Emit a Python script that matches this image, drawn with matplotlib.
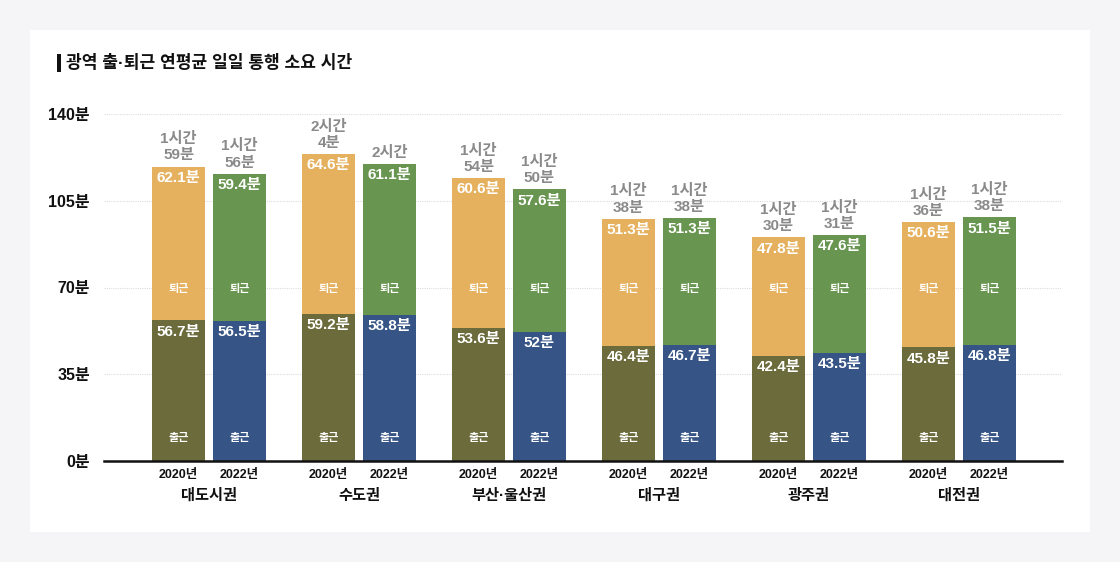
import matplotlib
matplotlib.use('Agg')
import matplotlib.pyplot as plt
from matplotlib.patches import Rectangle
import numpy as np

plt.rcParams['font.family'] = ['Liberation Sans', 'Noto Sans CJK KR', 'DejaVu Sans']

# data
regions = ['대도시권', '수도권', '부산·울산권', '대구권', '광주권', '대전권']
years = ['2020년', '2022년']
to_work_2020 = [56.7, 59.2, 53.6, 46.4, 42.4, 45.8]
from_work_2020 = [62.1, 64.6, 60.6, 51.3, 47.8, 50.6]
to_work_2022 = [56.5, 58.8, 52.0, 46.7, 43.5, 46.8]
from_work_2022 = [59.4, 61.1, 57.6, 51.3, 47.6, 51.5]
y_ticks = [0, 35, 70, 105, 140]

# colours
c_to_2020 = '#6b6b3c'
c_from_2020 = '#e5b15e'
c_to_2022 = '#365485'
c_from_2022 = '#689550'
bg_outer = '#f5f5f7'


def fmt_num(v):
    return f'{v:g}분'


def fmt_total(v):
    m = int(round(v))
    h, mm = divmod(m, 60)
    if mm == 0:
        return f'{h}시간'
    return f'{h}시간\n{mm}분'


fig = plt.figure(figsize=(11.2, 5.62), dpi=100)
fig.patch.set_facecolor(bg_outer)

# white card
card = Rectangle((30 / 1120, 30 / 562), 1060 / 1120, 502 / 562,
                 transform=fig.transFigure, facecolor='white',
                 edgecolor='none', zorder=-10)
fig.patches.append(card)

# title with black marker
fig.patches.append(Rectangle((57 / 1120, 1 - 72 / 562), 4 / 1120, 18 / 562,
                             transform=fig.transFigure, facecolor='#111111',
                             edgecolor='none', zorder=-5))
fig.text(66 / 1120, 1 - 62 / 562, '광역 출·퇴근 연평균 일일 통행 소요 시간',
         fontsize=12.3, fontweight='bold', color='#111111',
         ha='left', va='center')

ax = fig.add_axes([104 / 1120, 101 / 562, 958 / 1120, 347 / 562])
ax.set_facecolor('none')

x = np.arange(len(regions))
off = 0.203
w = 0.355

series = [
    (x - off, to_work_2020, from_work_2020, c_to_2020, c_from_2020),
    (x + off, to_work_2022, from_work_2022, c_to_2022, c_from_2022),
]

for xs, low, high, c_low, c_high in series:
    low = np.array(low)
    high = np.array(high)
    ax.bar(xs, low, width=w, color=c_low, zorder=3)
    ax.bar(xs, high, width=w, bottom=low, color=c_high, zorder=3)
    for xi, lo, hi in zip(xs, low, high):
        ax.annotate(fmt_num(lo), (xi, lo), xytext=(0, -3),
                    textcoords='offset points', ha='center', va='top',
                    fontsize=11, fontweight='bold', color='white', zorder=4)
        ax.annotate(fmt_num(hi), (xi, lo + hi), xytext=(0, -3),
                    textcoords='offset points', ha='center', va='top',
                    fontsize=11, fontweight='bold', color='white', zorder=4)
        ax.text(xi, 69.3, '퇴근', ha='center', va='center', fontsize=8,
                fontweight='bold', color='white', zorder=4)
        ax.text(xi, 9.3, '출근', ha='center', va='center', fontsize=8,
                fontweight='bold', color='white', zorder=4)
        ax.annotate(fmt_total(lo + hi), (xi, lo + hi), xytext=(0, 3),
                    textcoords='offset points', ha='center', va='bottom',
                    fontsize=11, fontweight='bold', color='#8a8a8a',
                    linespacing=1.2, zorder=4)

ax.set_xlim(-0.7, 5.687)
ax.set_ylim(0, 140)
ax.set_yticks(y_ticks)
ax.set_yticklabels([f'{t}분' for t in y_ticks], fontsize=11.5,
                   fontweight='bold', color='#111111')
ax.tick_params(axis='y', length=0, pad=10)
for t in y_ticks[1:]:
    ax.axhline(t, color='#dddddd', lw=0.8, ls=(0, (1, 1)), zorder=1)

# x labels: years and region names
ax.set_xticks(np.concatenate([x - off, x + off]))
ax.set_xticklabels(years[:1] * len(x) + years[1:] * len(x), fontsize=9,
                   fontweight='bold', color='#111111')
ax.tick_params(axis='x', length=0, pad=6)
for xi, name in zip(x, regions):
    ax.text(xi, -14, name, ha='center', va='center', fontsize=11,
            fontweight='bold', color='#111111', clip_on=False)

for s in ['top', 'right', 'left']:
    ax.spines[s].set_visible(False)
ax.spines['bottom'].set_color('#111111')
ax.spines['bottom'].set_linewidth(1.8)
ax.spines['bottom'].set_zorder(5)

fig.savefig('out.png', dpi=100, facecolor=fig.get_facecolor())
